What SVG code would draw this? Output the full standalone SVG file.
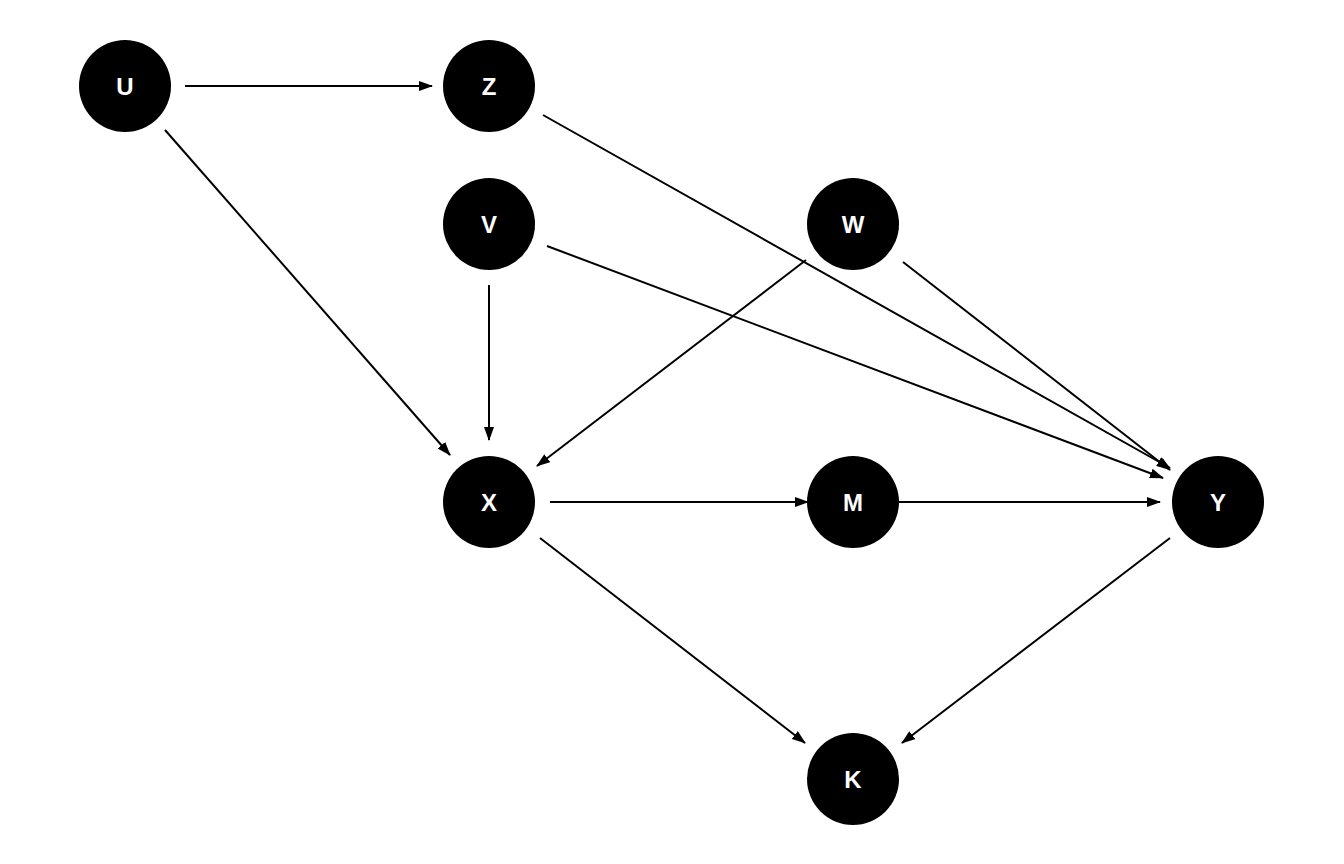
<svg xmlns="http://www.w3.org/2000/svg" width="1344" height="864" viewBox="0 0 1344 864">
<style>
.n{fill:#000}
.t{fill:#fff;font-family:"Liberation Sans",Arial,sans-serif;font-weight:bold;font-size:24px;text-anchor:middle;dominant-baseline:central}
.e{stroke:#000;stroke-width:2;fill:none;marker-end:url(#a)}
</style>
<defs><marker id="a" markerWidth="14" markerHeight="10" refX="13" refY="5" orient="auto" markerUnits="userSpaceOnUse"><path d="M0,0L14,5L0,10z" fill="#000"/></marker></defs>
<rect width="1344" height="864" fill="#fff"/>
<g id="connectors">
<line class="e" x1="185" y1="86" x2="432" y2="86"/>
<line class="e" x1="165" y1="130" x2="450" y2="455"/>
<line class="e" x1="543" y1="115" x2="1170" y2="468"/>
<line class="e" x1="489" y1="285" x2="489" y2="440"/>
<line class="e" x1="547" y1="246" x2="1163" y2="478"/>
<line class="e" x1="806" y1="260" x2="537" y2="466"/>
<line class="e" x1="903" y1="262" x2="1170" y2="470"/>
<line class="e" x1="550" y1="502" x2="808" y2="502"/>
<line class="e" x1="899" y1="502" x2="1160" y2="502"/>
<line class="e" x1="540" y1="538" x2="805" y2="743"/>
<line class="e" x1="1170" y1="538" x2="902" y2="743"/>
</g>
<g id="U"><circle class="n" cx="125" cy="86" r="46"/><text class="t" x="125" y="86">U</text></g>
<g id="Z"><circle class="n" cx="489" cy="86" r="46"/><text class="t" x="489" y="86">Z</text></g>
<g id="V"><circle class="n" cx="489" cy="224" r="46"/><text class="t" x="489" y="224">V</text></g>
<g id="W"><circle class="n" cx="853" cy="224" r="46"/><text class="t" x="853" y="224">W</text></g>
<g id="X"><circle class="n" cx="489" cy="502" r="46"/><text class="t" x="489" y="502">X</text></g>
<g id="M"><circle class="n" cx="853" cy="502" r="46"/><text class="t" x="853" y="502">M</text></g>
<g id="Y"><circle class="n" cx="1218" cy="502" r="46"/><text class="t" x="1218" y="502">Y</text></g>
<g id="K"><circle class="n" cx="853" cy="779" r="46"/><text class="t" x="853" y="779">K</text></g>
</svg>
